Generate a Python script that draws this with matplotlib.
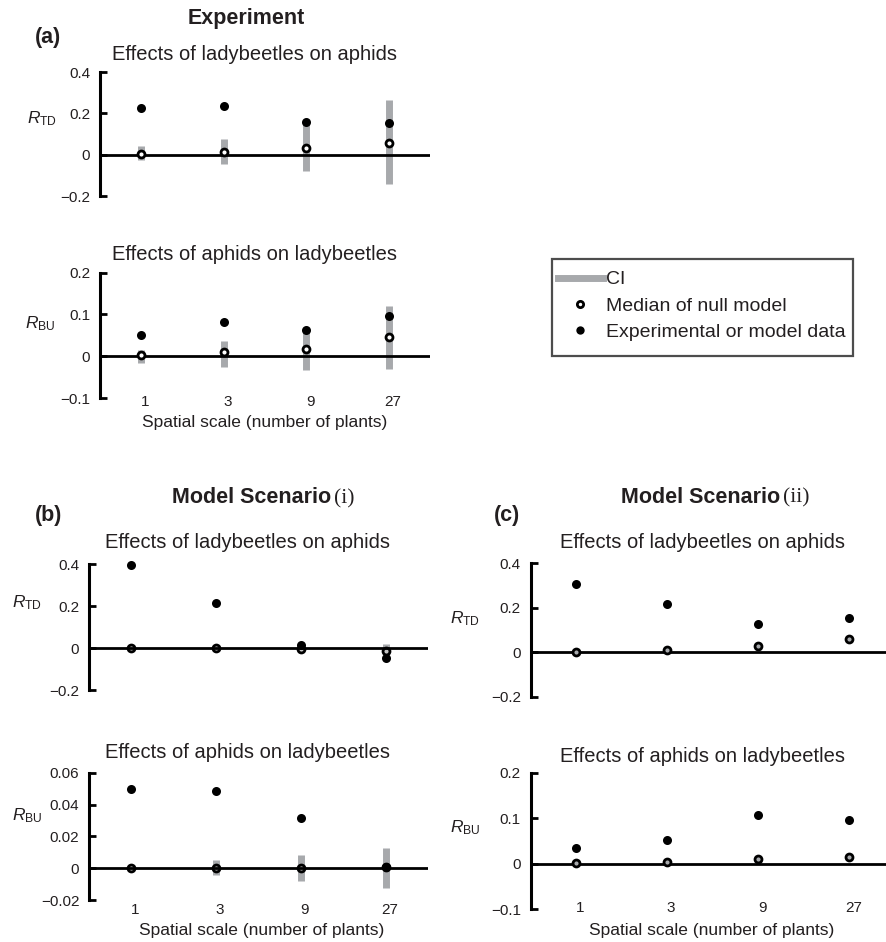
import numpy as np
import matplotlib
matplotlib.use("Agg")
import matplotlib.pyplot as plt
from matplotlib.lines import Line2D
from matplotlib.patches import Rectangle
import matplotlib.transforms as mtransforms

plt.rcParams['font.family'] = ['Liberation Sans', 'DejaVu Sans']
plt.rcParams['mathtext.fontset'] = 'custom'
plt.rcParams['mathtext.rm'] = 'Liberation Sans'
plt.rcParams['mathtext.it'] = 'Liberation Sans:italic'
plt.rcParams['mathtext.bf'] = 'Liberation Sans:bold'

# ---------------- data ----------------
scales = ['1', '3', '9', '27']

# (a) Experiment
exp_td_obs = [0.228, 0.237, 0.160, 0.151]
exp_td_med = [0.005, 0.013, 0.033, 0.057]
exp_td_lo = [-0.028, -0.047, -0.077, -0.143]
exp_td_hi = [0.044, 0.077, 0.155, 0.263]

exp_bu_obs = [0.052, 0.083, 0.064, 0.096]
exp_bu_med = [0.002, 0.009, 0.018, 0.045]
exp_bu_lo = [-0.017, -0.025, -0.033, -0.030]
exp_bu_hi = [0.016, 0.036, 0.060, 0.121]

# (b) Model scenario (i)
s1_td_obs = [0.395, 0.216, 0.016, -0.045]
s1_td_med = [0.000, 0.000, -0.006, -0.012]
s1_td_lo = [-0.004, -0.006, -0.010, -0.025]
s1_td_hi = [0.004, 0.006, 0.010, 0.020]

s1_bu_obs = [0.0499, 0.0485, 0.0313, 0.0010]
s1_bu_med = [0.0000, 0.0000, 0.0000, 0.0005]
s1_bu_lo = [-0.0010, -0.0046, -0.0080, -0.0122]
s1_bu_hi = [0.0010, 0.0050, 0.0082, 0.0128]

# (c) Model scenario (ii)
s2_td_obs = [0.307, 0.217, 0.128, 0.155]
s2_td_med = [0.003, 0.012, 0.030, 0.059]
s2_td_lo = [-0.004, 0.004, 0.022, 0.050]
s2_td_hi = [0.010, 0.020, 0.038, 0.068]

s2_bu_obs = [0.034, 0.053, 0.108, 0.097]
s2_bu_med = [0.001, 0.003, 0.0095, 0.0146]
s2_bu_lo = [-0.003, -0.001, 0.005, 0.010]
s2_bu_hi = [0.005, 0.007, 0.014, 0.019]

# ---------------- style ----------------
W, H = 887, 942
TXT = '#231f20'
CI_GRAY = '#a7a9ac'

fig = plt.figure(figsize=(W / 100, H / 100), dpi=100)


def add_ax(left, right, top, bottom):
    return fig.add_axes([left / W, 1 - bottom / H, (right - left) / W, (bottom - top) / H])


def ftext(x, y, s, **kw):
    kw.setdefault('va', 'baseline')
    kw.setdefault('color', TXT)
    return fig.text(x / W, 1 - y / H, s, **kw)


def fmt(v):
    s = ('%g' % v)
    return s.replace('-', '\u2212')


def panel(ax, obs, med, lo, hi, ylim, yticks, open_face, show_x, xpad, line_top=False):
    x = np.arange(len(scales))
    ax.vlines(x, lo, hi, color=CI_GRAY, lw=5, zorder=1, clip_on=False)
    ax.axhline(0, color='k', lw=2.0, zorder=3.5 if line_top else 2)
    ax.plot(x, med, ls='none', marker='o', ms=5.0, mfc=open_face, mec='k', mew=2.0,
            zorder=3, clip_on=False)
    ax.plot(x, obs, ls='none', marker='o', ms=6.5, color='k', mew=0, zorder=4, clip_on=False)
    ax.set_xlim(-0.5, 3.5)
    ax.set_ylim(*ylim)
    for s in ['top', 'right', 'bottom']:
        ax.spines[s].set_visible(False)
    ax.spines['left'].set_linewidth(2.2)
    ax.spines['left'].set_color('k')
    ax.set_yticks(yticks)
    ax.set_yticklabels([fmt(v) for v in yticks])
    ax.tick_params(axis='y', direction='in', length=5, width=2.0, pad=7,
                   labelsize=11, labelcolor=TXT, color='k')
    ax.patch.set_alpha(0)
    if show_x:
        ax.set_xticks(x)
        ax.set_xticklabels(scales)
        ax.tick_params(axis='x', length=0, pad=xpad, labelsize=11, labelcolor=TXT)
        off = mtransforms.ScaledTranslation(4 / 100, 0, fig.dpi_scale_trans)
        for lab in ax.get_xticklabels():
            lab.set_transform(lab.get_transform() + off)
    else:
        ax.set_xticks([])


# ---------------- panel (a) ----------------
axa1 = add_ax(100, 430, 72, 196)
panel(axa1, exp_td_obs, exp_td_med, exp_td_lo, exp_td_hi, (-0.2, 0.4),
      [-0.2, 0, 0.2, 0.4], 'white', False, 0)
axa2 = add_ax(100, 430, 272.7, 398)
panel(axa2, exp_bu_obs, exp_bu_med, exp_bu_lo, exp_bu_hi, (-0.1, 0.2),
      [-0.1, 0, 0.1, 0.2], 'white', True, -2)

# ---------------- panel (b) ----------------
axb1 = add_ax(89, 428, 564.3, 690)
panel(axb1, s1_td_obs, s1_td_med, s1_td_lo, s1_td_hi, (-0.2, 0.4),
      [-0.2, 0, 0.2, 0.4], '#c4c4c4', False, 0, line_top=True)
axb2 = add_ax(89, 428, 772.7, 900)
panel(axb2, s1_bu_obs, s1_bu_med, s1_bu_lo, s1_bu_hi, (-0.02, 0.06),
      [-0.02, 0, 0.02, 0.04, 0.06], '#c4c4c4', True, 2, line_top=True)

# ---------------- panel (c) ----------------
axc1 = add_ax(530.5, 894.8, 563.3, 696.7)
panel(axc1, s2_td_obs, s2_td_med, s2_td_lo, s2_td_hi, (-0.2, 0.4),
      [-0.2, 0, 0.2, 0.4], CI_GRAY, False, 0)
axc2 = add_ax(530.5, 894.8, 772.7, 909.3)
panel(axc2, s2_bu_obs, s2_bu_med, s2_bu_lo, s2_bu_hi, (-0.1, 0.2),
      [-0.1, 0, 0.1, 0.2], CI_GRAY, True, -6)

# ---------------- texts ----------------
BIG = 15.5
TSZ = 14.5
ftext(246, 24, 'Experiment', ha='center', fontsize=BIG, fontweight='bold')
ftext(35, 43, '(a)', ha='left', fontsize=BIG, fontweight='bold')
ftext(255, 60, 'Effects of ladybeetles on aphids', ha='center', fontsize=TSZ)
ftext(255, 260.5, 'Effects of aphids on ladybeetles', ha='center', fontsize=TSZ)
ftext(265, 426.5, 'Spatial scale (number of plants)', ha='center', fontsize=12.5)
ftext(27, 123, r'$R_{\mathrm{TD}}$', ha='left', fontsize=12.5)
ftext(25, 328, r'$R_{\mathrm{BU}}$', ha='left', fontsize=12.5)

ftext(331, 503, 'Model Scenario', ha='right', fontsize=BIG, fontweight='bold')
ftext(334, 503, '(i)', ha='left', fontsize=BIG, family='Liberation Serif')
ftext(35, 521.5, '(b)', ha='left', fontsize=BIG, fontweight='bold')
ftext(248, 548, 'Effects of ladybeetles on aphids', ha='center', fontsize=TSZ)
ftext(248, 758, 'Effects of aphids on ladybeetles', ha='center', fontsize=TSZ)
ftext(262, 935, 'Spatial scale (number of plants)', ha='center', fontsize=12.5)
ftext(12, 607.5, r'$R_{\mathrm{TD}}$', ha='left', fontsize=12.5)
ftext(12, 820.5, r'$R_{\mathrm{BU}}$', ha='left', fontsize=12.5)

ftext(780, 502.5, 'Model Scenario', ha='right', fontsize=BIG, fontweight='bold')
ftext(783, 502.5, '(ii)', ha='left', fontsize=BIG, family='Liberation Serif')
ftext(494, 521.5, '(c)', ha='left', fontsize=BIG, fontweight='bold')
ftext(703, 548, 'Effects of ladybeetles on aphids', ha='center', fontsize=TSZ)
ftext(703, 761.5, 'Effects of aphids on ladybeetles', ha='center', fontsize=TSZ)
ftext(712, 935, 'Spatial scale (number of plants)', ha='center', fontsize=12.5)
ftext(450.5, 623, r'$R_{\mathrm{TD}}$', ha='left', fontsize=12.5)
ftext(450.5, 832, r'$R_{\mathrm{BU}}$', ha='left', fontsize=12.5)

# ---------------- legend ----------------
h_ci = Line2D([], [], color=CI_GRAY, lw=5)
h_med = Line2D([], [], ls='none', marker='o', ms=4.5, mfc='white', mec='k', mew=2.0)
h_obs = Line2D([], [], ls='none', marker='o', ms=6, color='k', mew=0)
leg = fig.legend([h_ci, h_med, h_obs],
                 ['CI', 'Median of null model', 'Experimental or model data'],
                 loc='upper left', bbox_to_anchor=(552 / W, 1 - 265 / H),
                 bbox_transform=fig.transFigure, borderaxespad=0, frameon=False,
                 fontsize=14, handlelength=2.3, handletextpad=0.2,
                 labelspacing=0.45, borderpad=0.3)
for t in leg.get_texts():
    t.set_color(TXT)
fig.patches.append(Rectangle((552 / W, 1 - 356 / H), (853 - 552) / W, (356 - 259) / H,
                             transform=fig.transFigure, fill=False,
                             edgecolor='#4d4d4d', linewidth=1.6))

fig.savefig('out.png', dpi=100)
